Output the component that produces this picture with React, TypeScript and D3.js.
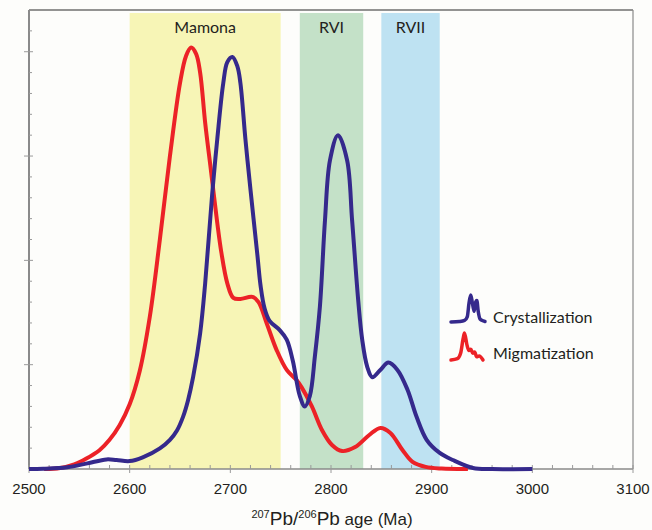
import React from 'react'
import * as d3 from 'd3'

// age (Ma) / relative probability
const crystAge = [2500, 2514, 2538, 2558, 2577, 2587, 2600, 2613, 2630, 2640, 2647, 2653, 2658, 2663, 2670, 2675, 2682, 2687, 2693, 2697, 2702, 2707, 2710, 2715, 2720, 2727, 2730, 2734, 2739, 2749, 2756, 2762, 2769, 2774, 2779, 2784, 2789, 2794, 2799, 2807, 2816, 2821, 2827, 2831, 2836, 2841, 2849, 2857, 2866, 2876, 2885, 2895, 2908, 2921, 2941, 2960, 3000]
const crystVal = [0, 0.01, 0.08, 0.27, 0.46, 0.43, 0.38, 0.56, 0.99, 1.4, 1.85, 2.5, 3.3, 4.4, 6.5, 8.9, 13.2, 15.8, 18.5, 19.5, 19.75, 19.3, 18.5, 15.8, 13.4, 10.2, 8.8, 7.7, 7.1, 6.66, 6.2, 5.2, 3.5, 3.0, 3.5, 5.4, 7.8, 11.9, 14.8, 16.0, 14.8, 11.9, 8.1, 6.2, 4.9, 4.4, 4.75, 5.1, 4.75, 3.8, 2.5, 1.4, 0.77, 0.43, 0.05, 0, 0]

const migAge = [2515, 2531, 2545, 2557, 2570, 2580, 2590, 2600, 2610, 2620, 2630, 2640, 2650, 2656, 2661, 2666, 2670, 2675, 2681, 2687, 2691, 2697, 2703, 2710, 2722, 2728, 2736, 2746, 2756, 2766, 2771, 2781, 2791, 2801, 2811, 2824, 2838, 2849, 2859, 2871, 2881, 2894, 2910, 2936]
const migVal = [0, 0.05, 0.22, 0.5, 0.9, 1.4, 2.1, 3.1, 4.7, 7.3, 11.0, 15.0, 18.5, 19.8, 20.2, 19.9, 19.0, 16.6, 14.2, 11.8, 10.4, 8.9, 8.2, 8.15, 8.25, 8.0, 7.0, 5.7, 4.75, 4.25, 3.9, 3.0, 1.87, 1.15, 0.86, 1.05, 1.63, 1.97, 1.73, 0.91, 0.34, 0.1, 0.02, 0]

const bandNames = ['Mamona', 'RVI', 'RVII']
const bandStart = [2600, 2769, 2850]
const bandEnd = [2750, 2832, 2908]
const bandColors = ['#f7f5b6', '#c4e1c8', '#bee2f2']

const xTicks = [2500, 2600, 2700, 2800, 2900, 3000, 3100]

// small legend glyphs (x, y in glyph units 0..1)
const iconCrystX = [0, 0.25, 0.4, 0.48, 0.53, 0.58, 0.63, 0.68, 0.72, 0.76, 0.8, 0.86, 0.95, 1]
const iconCrystY = [0, 0.02, 0.06, 0.2, 0.7, 1, 0.7, 0.4, 0.72, 0.8, 0.4, 0.1, 0.04, 0.02]
const iconMigX = [0, 0.2, 0.3, 0.38, 0.42, 0.5, 0.56, 0.62, 0.68, 0.74, 0.8, 0.88, 1]
const iconMigY = [0, 0.05, 0.25, 0.8, 1, 0.55, 0.35, 0.4, 0.25, 0.3, 0.12, 0.15, 0]

const W = 652
const H = 530
const margin = { top: 10, right: 19, bottom: 61, left: 29 }
const iw = W - margin.left - margin.right
const ih = H - margin.top - margin.bottom

export default function App() {
  const x = d3.scaleLinear().domain([2500, 3100]).range([margin.left, margin.left + iw])
  const y = d3.scaleLinear().domain([0, 22]).range([margin.top + ih, margin.top])

  const line = d3.line<[number, number]>()
    .x(d => x(d[0]))
    .y(d => Math.min(y(d[1]), y(0)))
    .curve(d3.curveCatmullRom.alpha(0.5))

  const crystPath = line(crystAge.map((a, i) => [a, crystVal[i]]))
  const migPath = line(migAge.map((a, i) => [a, migVal[i]]))

  const minorX = d3.range(2520, 3100, 20).filter(v => v % 100 !== 0)
  const minorY = d3.range(1, 22).filter(v => v % 5 !== 0)
  const majorY = [5, 10, 15, 20]
  const y0 = y(0)

  const glyph = (xs: number[], ys: number[], x0: number, yb: number, w: number, h: number) => {
    const gx = d3.scaleLinear().domain([0, 1]).range([x0, x0 + w])
    const gy = d3.scaleLinear().domain([0, 1]).range([yb, yb - h])
    return d3.line<number>()
      .x((_, i) => gx(xs[i]))
      .y(d => gy(d))
      .curve(d3.curveMonotoneX)(ys)
  }

  const sans = 'Lato, "Open Sans", sans-serif'
  const arial = '"Liberation Sans", Arial, sans-serif'

  return (
    <svg width={W} height={H} style={{ position: 'absolute', left: 0, top: 0, display: 'block' }}>
      <rect width={W} height={H} fill="#fdfdfb" />

      {/* period bands */}
      {bandNames.map((n, i) => (
        <g key={n}>
          <rect x={x(bandStart[i])} y={margin.top + 3} width={x(bandEnd[i]) - x(bandStart[i])}
            height={y0 - margin.top - 3} fill={bandColors[i]} />
          <text x={(x(bandStart[i]) + x(bandEnd[i])) / 2} y={33} textAnchor="middle"
            fontFamily={sans} fontSize={16} fill="#231f20">{n}</text>
        </g>
      ))}

      {/* frame */}
      <line x1={margin.left} x2={margin.left + iw} y1={margin.top} y2={margin.top} stroke="#6f6f6f" strokeWidth={1.5} />
      <line x1={margin.left + iw} x2={margin.left + iw} y1={margin.top} y2={y0} stroke="#8a8a8a" strokeWidth={1.2} />
      <line x1={margin.left} x2={margin.left} y1={margin.top} y2={y0} stroke="#8a8a8a" strokeWidth={2} />
      <line x1={margin.left} x2={margin.left + iw} y1={y0} y2={y0} stroke="#8a8a8a" strokeWidth={1.5} />

      {/* y ticks */}
      {minorY.map(v => (
        <line key={'my' + v} x1={margin.left} x2={margin.left + 3} y1={y(v)} y2={y(v)} stroke="#9a9a9a" strokeWidth={1} />
      ))}
      {majorY.map(v => (
        <line key={'My' + v} x1={margin.left - 5} x2={margin.left + 4} y1={y(v)} y2={y(v)} stroke="#9a9a9a" strokeWidth={1} />
      ))}

      {/* x ticks */}
      {minorX.map(v => (
        <line key={'mx' + v} x1={x(v)} x2={x(v)} y1={y0} y2={y0 - 4} stroke="#9a9a9a" strokeWidth={1} />
      ))}
      {xTicks.map(v => (
        <g key={'Mx' + v}>
          <line x1={x(v)} x2={x(v)} y1={y0 - 4} y2={y0 + 4} stroke="#9a9a9a" strokeWidth={1} />
          <text x={x(v)} y={494} textAnchor="middle" fontFamily={arial} fontSize={15} fill="#231f20">{v}</text>
        </g>
      ))}

      {/* curves */}
      <path d={migPath ?? ''} fill="none" stroke="#ec2227" strokeWidth={4} strokeLinejoin="round" />
      <path d={crystPath ?? ''} fill="none" stroke="#35298c" strokeWidth={4} strokeLinejoin="round" />

      {/* legend */}
      <path d={glyph(iconCrystX, iconCrystY, 451, 322, 34, 27) ?? ''} fill="none" stroke="#35298c" strokeWidth={3.5} strokeLinecap="round" />
      <text x={493} y={323} fontFamily={sans} fontSize={16} fill="#231f20">Crystallization</text>
      <path d={glyph(iconMigX, iconMigY, 451, 360, 32, 27) ?? ''} fill="none" stroke="#ec2227" strokeWidth={3.5} strokeLinecap="round" />
      <text x={493} y={359} fontFamily={sans} fontSize={16} fill="#231f20">Migmatization</text>

      {/* x axis title */}
      <text x={332} y={525} textAnchor="middle" fontFamily={arial} fill="#231f20" fontSize={17}>
        <tspan fontSize={11} dy={-7}>207</tspan>
        <tspan fontSize={19} dy={7}>Pb/</tspan>
        <tspan fontSize={11} dy={-7}>206</tspan>
        <tspan fontSize={19} dy={7}>Pb</tspan>
        <tspan> age (Ma)</tspan>
      </text>
    </svg>
  )
}
